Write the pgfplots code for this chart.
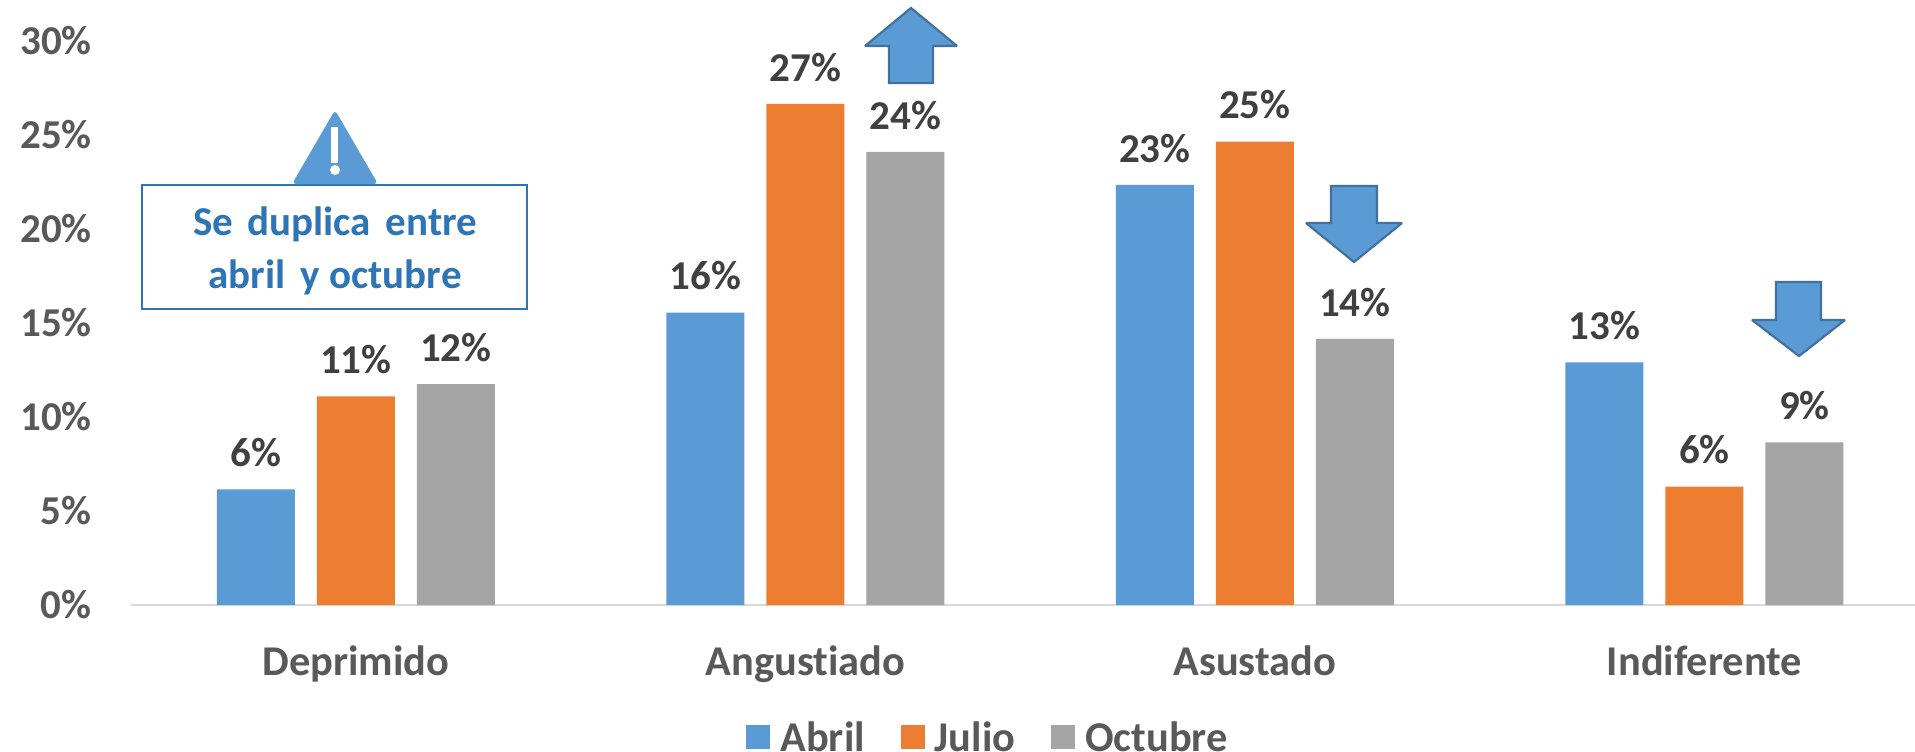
\documentclass[border=0pt]{standalone}
\usepackage{fontspec}
\setmainfont{Carlito}[Ligatures=NoCommon]
\usepackage{pgfplots}
\pgfplotsset{compat=1.18}
\definecolor{cblue}{HTML}{5B9BD5}
\definecolor{corange}{HTML}{ED7D31}
\definecolor{cgray}{HTML}{A5A5A5}
\definecolor{cgrayline}{HTML}{D9D9D9}
\definecolor{ctext}{HTML}{595959}
\definecolor{clabel}{HTML}{404040}
\definecolor{cbox}{HTML}{2E75B6}
\definecolor{carrow}{HTML}{41719C}
\begin{document}
\begin{tikzpicture}
\useasboundingbox (0,0) rectangle (957.5pt,-375.5pt);
\begin{axis}[
  at={(65.5pt,-302.5pt)}, anchor=south west,
  scale only axis, width=892pt, height=282pt,
  xmin=-0.5, xmax=3.4684, ymin=0, ymax=30,
  clip=false,
  axis x line=bottom, axis y line=left,
  x axis line style={draw=cgrayline, line width=1.25pt, -},
  y axis line style={draw=none},
  tick style={draw=none},
  xtick={0,1,2,3},
  xticklabels={Deprimido,Angustiado,Asustado,Indiferente},
  ytick={0,5,10,15,20,25,30},
  yticklabels={0\%,5\%,10\%,15\%,20\%,25\%,30\%},
  ticklabel style={font=\fontsize{20.5}{22}\selectfont\bfseries, text=ctext},
  xticklabel style={yshift=-12.5pt, font=\fontsize{21.2}{23}\selectfont\bfseries},
  yticklabel style={xshift=-14pt},
  ybar, bar width=39pt,
  point meta=explicit symbolic,
  nodes near coords={\pgfplotspointmeta\%},
  every node near coord/.append style={font=\fontsize{20.5}{22}\selectfont\bfseries, text=clabel, inner sep=0pt, anchor=south, yshift=11pt},
  legend image code/.code={\path[#1,draw=none] (0pt,-5.5pt) rectangle (12pt,6.5pt);},
  legend style={at={(0.345,-0.2)}, anchor=north west, draw=none, fill=none, inner sep=0pt, outer sep=0pt,
    font=\fontsize{21.2}{23}\selectfont\bfseries, text=ctext, legend columns=-1,
    /tikz/every even column/.append style={column sep=16pt},
    /tikz/every odd column/.append style={column sep=3pt}},
]
\addplot[fill=cblue, draw=none, bar shift=-50pt] table[x=x, y=y, meta=l] {
x y l
0 6.15 6
1 15.55 16
2 22.35 23
3 12.9 13
};
\addplot[fill=corange, draw=none, bar shift=0pt] table[x=x, y=y, meta=l] {
x y l
0 11.1 11
1 26.65 27
2 24.65 25
3 6.3 6
};
\addplot[fill=cgray, draw=none, bar shift=50pt] table[x=x, y=y, meta=l] {
x y l
0 11.75 12
1 24.1 24
2 14.15 14
3 8.65 9
};
\legend{Abril,Julio,Octubre}
\end{axis}
\begin{scope}[x=0.5pt,y=-0.5pt]
 % warning box
 \draw[cbox, line width=1pt, fill=white] (142,185) rectangle (527,309);
 \node[text=cbox, font=\fontsize{20.5}{22}\selectfont\bfseries] at (335,224.5) {Se\hspace{.13em} duplica\hspace{.13em} entre};
 \node[text=cbox, font=\fontsize{20.5}{22}\selectfont\bfseries] at (335,277.5) {abril\hspace{.15em} y octubre};
 % warning triangle
 \fill[cblue, rounded corners=2pt] (335,110) -- (378,184) -- (292,184) -- cycle;
 \fill[white] (331,127) rectangle (338,163);
 \fill[white] (335,170) circle (5);
 % arrows
 \draw[carrow, fill=cblue, line width=1.1pt, miter limit=2] (911,8) -- (957,46) -- (933,46) -- (933,83) -- (889,83) -- (889,46) -- (865,46) -- cycle;
 \draw[carrow, fill=cblue, line width=1.1pt, miter limit=2] (1354,262) -- (1402,223) -- (1377,223) -- (1377,186) -- (1331,186) -- (1331,223) -- (1306,223) -- cycle;
 \draw[carrow, fill=cblue, line width=1.1pt, miter limit=2] (1799,356) -- (1845,320) -- (1821,320) -- (1821,282) -- (1776,282) -- (1776,320) -- (1752,320) -- cycle;
\end{scope}
\end{tikzpicture}
\end{document}
